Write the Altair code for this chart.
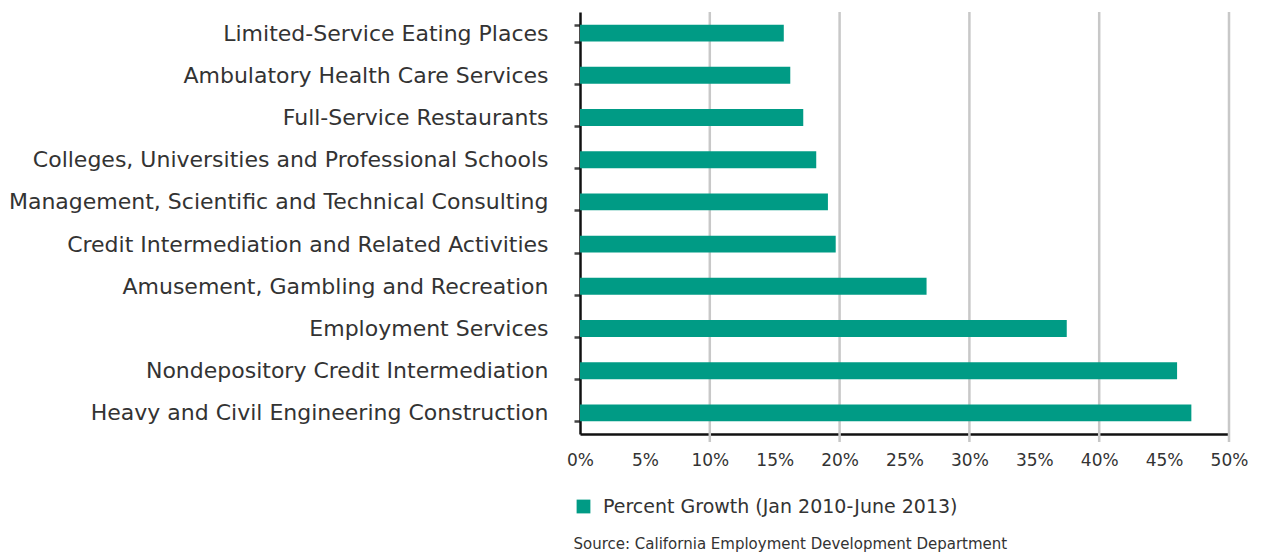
import altair as alt
import pandas as pd

categories = [
    "Limited-Service Eating Places",
    "Ambulatory Health Care Services",
    "Full-Service Restaurants",
    "Colleges, Universities and Professional Schools",
    "Management, Scientific and Technical Consulting",
    "Credit Intermediation and Related Activities",
    "Amusement, Gambling and Recreation",
    "Employment Services",
    "Nondepository Credit Intermediation",
    "Heavy and Civil Engineering Construction",
]
growth = [0.157, 0.162, 0.172, 0.182, 0.191, 0.197, 0.267, 0.375, 0.460, 0.471]
series_name = "Percent Growth (Jan 2010-June 2013)"
source_note = "Source:  California Employment Development Department"
x_ticks = [0, 0.05, 0.10, 0.15, 0.20, 0.25, 0.30, 0.35, 0.40, 0.45, 0.50]
grid_lines = [0.10, 0.20, 0.30, 0.40, 0.50]

df = pd.DataFrame({"industry": categories, "growth": growth, "series": series_name})
grid_df = pd.DataFrame({"g": grid_lines})

FONT = "DejaVu Sans"
TEAL = "#009b85"

x_scale = alt.Scale(domain=[0, 0.5], nice=False)
x_axis = alt.Axis(
    values=x_ticks,
    format=".0%",
    labelFontSize=17,
    labelFont=FONT,
    labelColor="#333333",
    labelPadding=18,
    labelFlush=False,
    ticks=False,
    grid=False,
    domainColor="#111111",
    domainWidth=2.5,
    title=source_note,
    titleFont=FONT,
    titleFontSize=15,
    titleFontWeight="normal",
    titleColor="#333333",
    titleAnchor="start",
    titleAlign="left",
    titleBaseline="middle",
    titleX=-7,
    titleY=109,
)

grid = alt.Chart(grid_df).mark_rule(color="#c8c8c8", strokeWidth=2.5).encode(
    x=alt.X("g:Q", scale=x_scale, axis=x_axis, title=source_note),
    y=alt.value(0),
    y2=alt.value(430),
)

bars = alt.Chart(df).mark_bar(color=TEAL).encode(
    y=alt.Y(
        "industry:N",
        sort=categories,
        scale=alt.Scale(paddingInner=0.6, paddingOuter=0.3),
        axis=alt.Axis(
            title=None,
            labelFontSize=22,
            labelFont=FONT,
            labelColor="#333333",
            labelPadding=26,
            labelLimit=700,
            tickBand="extent",
            tickSize=6,
            tickWidth=2.5,
            tickColor="#444444",
            domainColor="#111111",
            domainWidth=2.5,
            grid=False,
        ),
    ),
    x=alt.X("growth:Q", scale=x_scale, axis=x_axis, title=source_note),
    color=alt.Color(
        "series:N",
        scale=alt.Scale(range=[TEAL]),
        legend=alt.Legend(
            title=None,
            orient="none",
            legendX=-6,
            legendY=485,
            symbolType="square",
            symbolSize=190,
            symbolStrokeWidth=0,
            labelFontSize=19,
            labelFont=FONT,
            labelColor="#333333",
            labelOffset=10,
            labelLimit=600,
            padding=0,
        ),
    ),
)

chart = alt.layer(grid, bars).properties(
    width=649,
    height=422,
    autosize=alt.AutoSizeParams(type="none"),
    padding={"left": 572, "top": 4, "right": 25, "bottom": 122},
).configure_view(stroke=None)

chart.save("out.html", embed_options={"renderer": "svg", "actions": False})
